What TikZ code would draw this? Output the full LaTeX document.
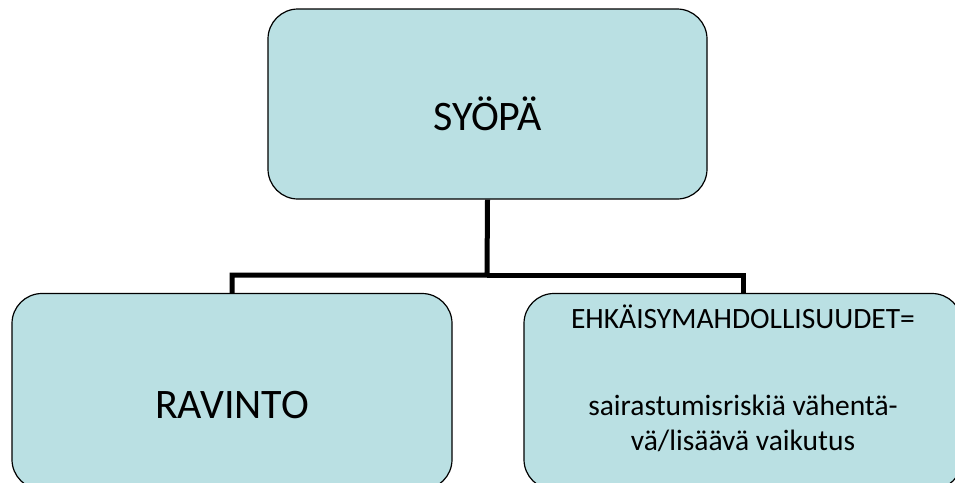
\documentclass[tikz,border=0pt]{standalone}
\usepackage{fontspec}
\setmainfont{Carlito}
\usetikzlibrary{positioning}
\definecolor{boxfill}{RGB}{186,224,227}
\tikzset{
  box/.style={draw=black, line width=1.2pt, fill=boxfill, rounded corners=30pt,
    minimum width=440pt, minimum height=196pt, inner sep=0pt},
  big/.style={font=\fontsize{42}{48}\selectfont, text height=53pt, text depth=0pt},
  conn/.style={draw=black, line width=5pt}
}
\begin{document}
\begin{tikzpicture}[x=1pt, y=1pt]
  \useasboundingbox (0,0) rectangle (955,-482);
  \clip (0,0) rectangle (955,-482);
  \node[box, big, minimum width=439pt, minimum height=190pt] (syopa) at (487.5,-104) {SYÖPÄ};
  \node[box, big] (ravinto) at (232,-391.5) {RAVINTO};
  \node[box, minimum width=438pt, font=\fontsize{29.5}{35}\selectfont] (ehk) at (743,-391.5)
    {\raisebox{9pt}[\height][\depth]{\begin{tabular}{@{}c@{}}EHKÄISYMAHDOLLISUUDET=\\[52pt]sairastumisriskiä vähentä-\\vä/lisäävä vaikutus\end{tabular}}};
  \coordinate (bus) at (487,-275);
  \draw[conn] (syopa.south) -- (bus) -| (ravinto.north);
  \draw[conn] (bus) -| (ehk.north);
\end{tikzpicture}
\end{document}
